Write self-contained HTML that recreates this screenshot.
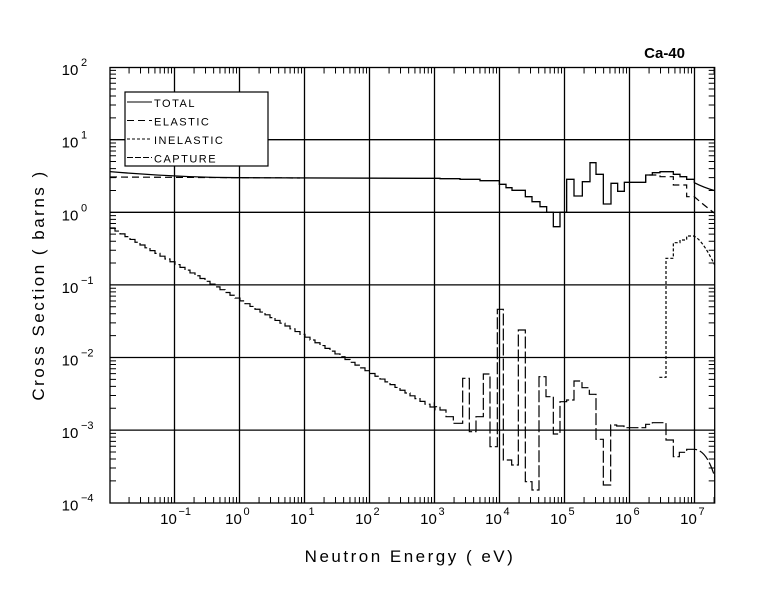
<!DOCTYPE html>
<html><head><meta charset="utf-8"><style>
body{margin:0;background:#fff}
svg{display:block}
text{font-family:"Liberation Sans",sans-serif;fill:#000}
</style></head><body>
<svg id="s" width="779" height="590" xmlns="http://www.w3.org/2000/svg">
<text x="685" y="58" font-size="15" font-weight="bold" text-anchor="end">Ca-40</text>
<text x="410" y="562" font-size="17" text-anchor="middle" letter-spacing="2.5">Neutron Energy ( eV)</text>
<text transform="translate(44,285) rotate(-90)" font-size="17" text-anchor="middle" letter-spacing="2.5">Cross Section ( barns )</text>
</svg>
<script>
const s=document.getElementById('s');const NS='http://www.w3.org/2000/svg';
function el(t,a,txt){const e=document.createElementNS(NS,t);for(const k in a)e.setAttribute(k,a[k]);if(txt!==undefined)e.textContent=txt;s.appendChild(e);return e;}
const L=110,R=714.7,T=67.5,B=503;
const X=l=>174.5+(l+1)*65, Y=l=>212.3-l*72.6;
for(let d=-1;d<=7;d++)el('line',{x1:X(d),x2:X(d),y1:T,y2:B,stroke:'#000','stroke-width':1.3});
for(let d=-3;d<=1;d++)el('line',{x1:L,x2:R,y1:Y(d),y2:Y(d),stroke:'#000','stroke-width':1.3});
el('rect',{x:L,y:T,width:R-L,height:B-T,fill:'none',stroke:'#000','stroke-width':1.3});
let tk='';
for(let d=-2;d<=7;d++)for(let m=2;m<=9;m++){const x=X(d+Math.log10(m));if(x>L&&x<R){tk+=`M${x},${B}v-6M${x},${T}v6`;}}
for(let d=-4;d<2;d++)for(let m=2;m<=9;m++){const y=Y(d+Math.log10(m));tk+=`M${L},${y}h6M${R},${y}h-6`;}
el('path',{d:tk,stroke:'#000','stroke-width':1,fill:'none'});
for(let d=-1;d<=7;d++){el('text',{x:X(d)-6,y:524,'font-size':15,'text-anchor':'middle'},'10');el('text',{x:X(d)+4,y:515,'font-size':11},String(d).replace('-','−'));}
for(let d=-4;d<=2;d++){el('text',{x:70,y:Y(d)+8,'font-size':15,'text-anchor':'middle'},'10');el('text',{x:81,y:Y(d)-1,'font-size':11},String(d).replace('-','−'));}
el('rect',{x:125,y:92,width:143,height:74,fill:'#fff',stroke:'#000','stroke-width':1.2});
const lg=[['TOTAL',''],['ELASTIC','7,4'],['INELASTIC','3,2'],['CAPTURE','6,2']];
lg.forEach((g,i)=>{const y=102+i*18.5;el('line',{x1:127,x2:152,y1:y,y2:y,stroke:'#000','stroke-dasharray':g[1]});el('text',{x:154,y:y+5,'font-size':11,'letter-spacing':1.5},g[0]);});
const Z=(zx,zy)=>[420+zx/3,150+zy/3];
function steps(arr){let p='';let first=true;for(let i=0;i<arr.length;i++){const [zx,a,b]=arr[i];const [x,y1]=Z(zx,a);if(first){p+=`M${x},${y1}`;first=false;}else p+=`H${x}V${y1}`;if(b!==undefined){p+=`V${Z(zx,b)[1]}`;}}return p;}
function line(d,dash,w){el('path',{d,stroke:'#000',fill:'none','stroke-width':w||1.3,'stroke-dasharray':dash||''});}
let tot=`M110,171.6 C150,175 200,177.5 240,177.7 L420,178.3 `+steps([[0,85],[60,86],[120,88],[180,92],[238,103],[258,113],[276,121],[316,140],[336,155],[360,170],[380,187],[400,187,230],[420,230,187],[440,187,88],[462,88,138],[487,138,95],[510,95,38],[528,38,73],[550,73,162],[573,162,100],[593,100,124],[613,124,97],[677,97,75],[697,75,68],[720,68,65],[760,65,73],[780,73,80],[800,80,88],[823,88,98]]).replace(/^M[^H]*/,'')+` Q${Z(850,112).join(',')} ${Z(884,122).join(',')}`;
line(tot,'',1.3);
line(`M110,177 L300,178 `,'7,4',1.2);
line(`M${Z(677,97).join(',')}V${Z(0,75)[1]}H${Z(720,0)[0]}V${Z(0,80)[1]}H${Z(760,0)[0]}V${Z(0,105)[1]}H${Z(800,0)[0]}V${Z(0,140)[1]}H${Z(823,0)[0]}Q${Z(845,160).join(',')} ${Z(884,190).join(',')}`,'7,4',1.2);
line(`M${Z(718,682).join(',')}H${Z(738,0)[0]}V${Z(0,325)[1]}H${Z(760,0)[0]}V${Z(0,278)[1]}H${Z(780,0)[0]}V${Z(0,270)[1]}H${Z(800,0)[0]}V${Z(0,258)[1]}H${Z(820,0)[0]}Q${Z(845,265).join(',')} ${Z(884,345).join(',')}`,'3,2',1.2);
let cap='M110,228';
for(let x=110;x<434;x+=5){const xs=x+5;const l=-0.22-0.5*(xs-110)/65;cap+=`H${xs}V${Y(l)}`;}
cap+=steps([[0,757],[43,757,770],[60,770,780],[78,780,800],[100,800,820],[128,820,685],[148,685,845],[168,845,800],[190,800,672],[210,672,890],[232,890,478],[250,478,930],[275,930,945],[295,945,540],[316,540,995],[336,995,1020],[357,1020,680],[378,680,740],[400,740,852],[420,852,755],[440,755,750],[462,750,693],[486,693,713],[508,713,733],[528,733,868],[550,868,1005],[572,1005,825],[590,825,828],[612,828,833],[677,833,823],[697,823,818],[738,818,870],[760,870,920],[778,920,907],[800,907,898],[823,898]]).replace(/^M[^HV]*/,'');
cap+=`Q${Z(860,900).join(',')} ${Z(884,980).join(',')}`;
line(cap,'12,3',1.2);
</script>
</body></html>
